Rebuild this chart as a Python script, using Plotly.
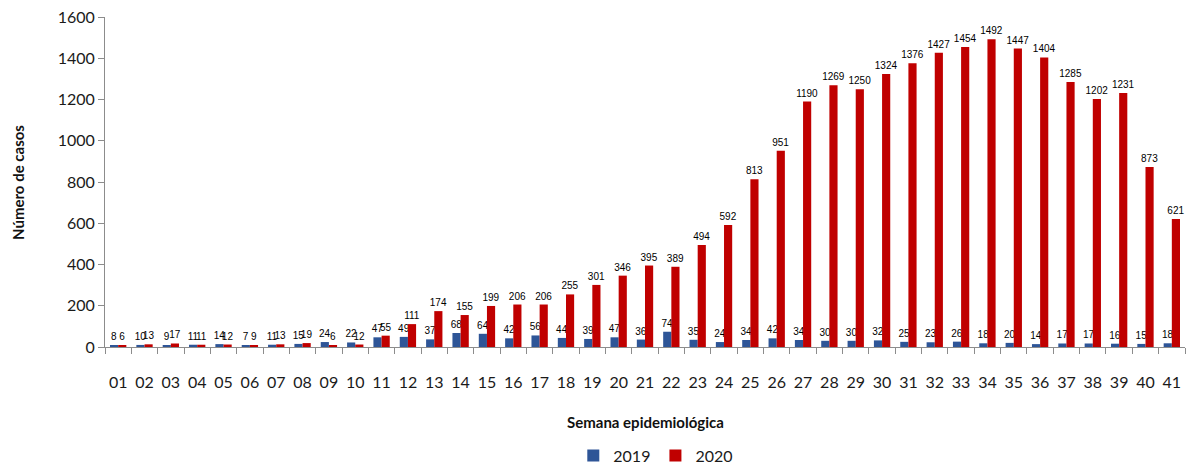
import plotly.graph_objects as go

# Semanas epidemiológicas 01-41
semanas = [f"{i:02d}" for i in range(1, 42)]

casos_2019 = [8, 10, 9, 11, 14, 7, 11, 15, 24, 22,
              47, 49, 37, 68, 64, 42, 56, 44, 39, 47,
              36, 74, 35, 24, 34, 42, 34, 30, 30, 32,
              25, 23, 26, 18, 20, 14, 17, 17, 16, 15, 18]

casos_2020 = [6, 13, 17, 11, 12, 9, 13, 19, 6, 12,
              55, 111, 174, 155, 199, 206, 206, 255, 301, 346,
              395, 389, 494, 592, 813, 951, 1190, 1269, 1250, 1324,
              1376, 1427, 1454, 1492, 1447, 1404, 1285, 1202, 1231, 873, 621]

azul = "#2E5597"
rojo = "#C00000"
lbl_font = dict(family="Liberation Sans, Arial", size=10, color="#000000")

fig = go.Figure()

fig.add_trace(go.Bar(
    x=semanas, y=casos_2019, name="2019",
    marker=dict(color=azul, line_width=0),
    text=casos_2019, textposition="outside", textfont=lbl_font,
    constraintext="none", cliponaxis=False,
))
fig.add_trace(go.Bar(
    x=semanas, y=casos_2020, name="2020",
    marker=dict(color=rojo, line_width=0),
    text=casos_2020, textposition="outside", textfont=lbl_font,
    constraintext="none", cliponaxis=False,
))

axis_font = dict(family="Lato, Open Sans, sans-serif", size=16, color="#1a1a1a")

# the capture comes out slightly squeezed vertically, so the figure is a bit taller
fig.update_layout(
    width=1189, height=476,
    margin=dict(l=105, r=4, t=17, b=122),
    paper_bgcolor="white", plot_bgcolor="white",
    barmode="group", bargap=0.38, bargroupgap=0,
    showlegend=True,
    legend=dict(orientation="h", x=0.51, xanchor="center", y=-0.329, yanchor="middle",
                font=dict(family="Lato, Open Sans, sans-serif", size=16, color="#1a1a1a"),
                itemwidth=30, traceorder="normal"),
    xaxis=dict(
        type="category", showgrid=False, showline=True, linecolor="#8c8c8c", linewidth=1,
        ticks="outside", tickson="boundaries", ticklen=6, tickcolor="#8c8c8c",
        tickfont=axis_font, ticklabelstandoff=21, tickangle=0, automargin=False,
    ),
    yaxis=dict(
        range=[0, 1600], dtick=200, showgrid=False, showline=True,
        linecolor="#8c8c8c", linewidth=1, ticks="outside", ticklen=6,
        tickcolor="#8c8c8c", tickfont=axis_font, zeroline=False, automargin=False,
    ),
    annotations=[
        dict(text="<b>Semana epidemiológica</b>", xref="paper", yref="paper",
             x=0.5, y=-0.2285, xanchor="center", yanchor="middle", showarrow=False,
             font=dict(family="Lato, Open Sans, sans-serif", size=15, color="#111111")),
        dict(text="<b>Número de casos</b>", xref="paper", yref="paper",
             x=-0.0806, y=0.5, xanchor="center", yanchor="middle", showarrow=False,
             textangle=-90,
             font=dict(family="Lato, Open Sans, sans-serif", size=15, color="#111111")),
    ],
)

# pin the figure to the window corner so the page never scrolls
pin = (
    "document.body.style.margin='0';"
    "var d=document.getElementById('{plot_id}');"
    "d.style.position='fixed';d.style.top='0';d.style.left='0';"
)
fig.write_html("out.html", post_script=pin, config={"displayModeBar": False})
